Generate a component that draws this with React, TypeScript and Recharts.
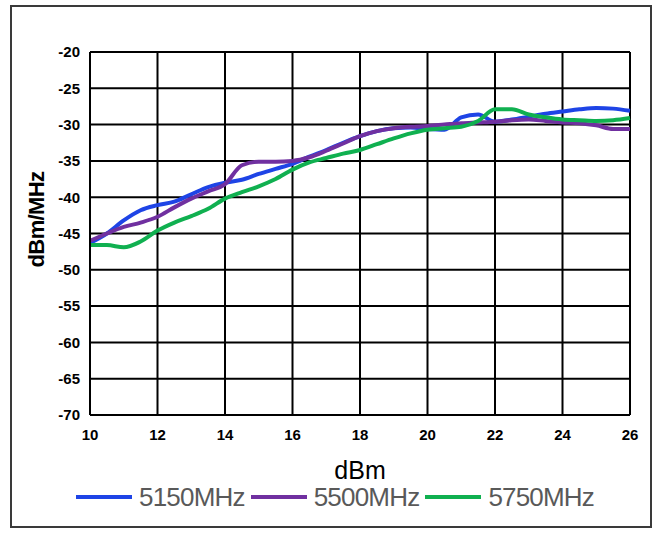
import { LineChart, Line, XAxis, YAxis, CartesianGrid } from "recharts";

// power sweep (dBm) and PSD readings (dBm/MHz) per channel
const powerLevels = [
  10, 10.5, 11, 11.5, 12, 12.5, 13, 13.5, 14, 14.5, 15, 15.5, 16, 16.5, 17, 17.5,
  18, 18.5, 19, 19.5, 20, 20.5, 21, 21.5, 22, 22.5, 23, 23.5, 24, 24.5, 25, 25.5, 26,
];
const psd5150 = [
  -46.3, -45.0, -43.2, -41.8, -41.1, -40.6, -39.6, -38.6, -38.0, -37.6, -36.8, -36.1,
  -35.4, -34.4, -33.5, -32.5, -31.6, -30.9, -30.5, -30.4, -30.6, -30.7, -29.0, -28.6,
  -29.6, -29.3, -28.9, -28.5, -28.2, -27.9, -27.7, -27.8, -28.1,
];
const psd5500 = [
  -46.0, -45.0, -44.1, -43.5, -42.7, -41.4, -40.2, -39.2, -38.2, -35.6, -35.1, -35.1,
  -35.0, -34.5, -33.6, -32.6, -31.6, -30.9, -30.5, -30.3, -30.2, -30.0, -29.8, -29.7,
  -29.6, -29.4, -29.3, -29.5, -29.7, -29.8, -30.1, -30.6, -30.6,
];
const psd5750 = [
  -46.6, -46.6, -46.9, -46.1, -44.6, -43.5, -42.6, -41.6, -40.2, -39.3, -38.5, -37.5,
  -36.2, -35.2, -34.6, -34.0, -33.5, -32.7, -31.9, -31.2, -30.7, -30.5, -30.3, -29.5,
  -27.9, -27.9, -28.6, -29.0, -29.3, -29.4, -29.5, -29.4, -29.1,
];
const xTicks = [10, 12, 14, 16, 18, 20, 22, 24, 26];
const yTicks = [-70, -65, -60, -55, -50, -45, -40, -35, -30, -25, -20];

const series = [
  { key: "5150MHz", color: "#1E44E6" },
  { key: "5500MHz", color: "#7030A0" },
  { key: "5750MHz", color: "#10B050" },
];

const data = powerLevels.map((p, i) => ({
  power: p,
  "5150MHz": psd5150[i],
  "5500MHz": psd5500[i],
  "5750MHz": psd5750[i],
}));

const font = "'Liberation Sans', Arial, sans-serif";
const tickStyle = { fill: "#000", fontSize: 15, fontWeight: 700, fontFamily: font };

export default function App() {
  return (
    <div style={{ position: "absolute", left: 0, top: 0, width: 661, height: 534, background: "#fff", fontFamily: font }}>
      <div
        style={{
          position: "absolute", left: 10, top: 5, width: 638, height: 519,
          border: "2px solid #3a3a3a",
        }}
      />
      <LineChart
        width={661}
        height={534}
        data={data}
        margin={{ top: 52, right: 31, left: 30, bottom: 89 }}
        style={{ position: "absolute", left: 0, top: 0 }}
      >
        <CartesianGrid stroke="#000" strokeWidth={2} />
        <XAxis
          dataKey="power"
          type="number"
          domain={[10, 26]}
          ticks={xTicks}
          height={30}
          tick={tickStyle}
          tickLine={false}
          axisLine={{ stroke: "#000", strokeWidth: 2 }}
          tickMargin={8}
          label={{ value: "dBm", position: "insideBottom", offset: -34, fill: "#000", fontSize: 25, fontFamily: font }}
        />
        <YAxis
          type="number"
          domain={[-70, -20]}
          ticks={yTicks}
          width={60}
          tick={tickStyle}
          tickLine={false}
          axisLine={{ stroke: "#000", strokeWidth: 2 }}
          tickMargin={4}
          label={{
            value: "dBm/MHz", angle: -90, position: "insideLeft", offset: 0,
            dx: 6, dy: -14, style: { textAnchor: "middle", letterSpacing: -0.6 },
            fill: "#000", fontSize: 22, fontWeight: 700, fontFamily: font,
          }}
        />
        {series.map((s) => (
          <Line
            key={s.key}
            type="monotone"
            dataKey={s.key}
            stroke={s.color}
            strokeWidth={4}
            dot={false}
            isAnimationActive={false}
          />
        ))}
      </LineChart>
      <div
        style={{
          position: "absolute", left: 76, top: 482, height: 30, display: "flex", alignItems: "center",
          fontSize: 26, letterSpacing: -0.8, color: "#595959", whiteSpace: "nowrap",
        }}
      >
        {series.map((s) => (
          <div key={s.key} style={{ display: "flex", alignItems: "center", marginRight: 6 }}>
            <div style={{ width: 56, height: 4, background: s.color, marginRight: 7 }} />
            <span>{s.key}</span>
          </div>
        ))}
      </div>
    </div>
  );
}
